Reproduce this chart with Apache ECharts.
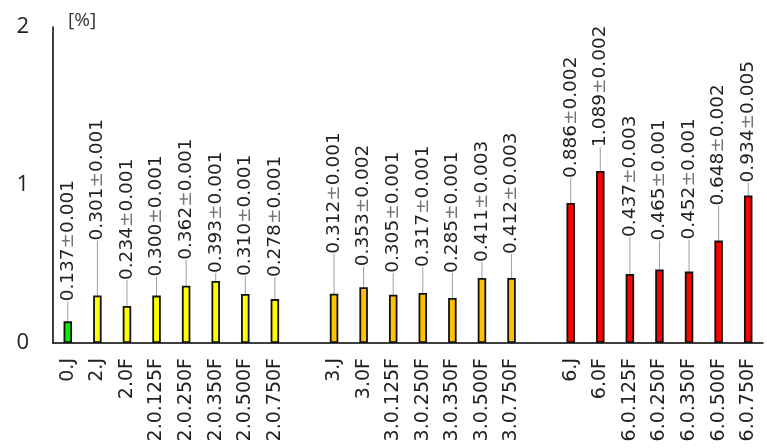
<!DOCTYPE html>
<html>
<head>
<meta charset="utf-8">
<script src="https://cdn.jsdelivr.net/npm/echarts@6/dist/echarts.min.js"></script>
<style>
  html, body { margin: 0; padding: 0; background: #fff; }
  #chart { width: 767px; height: 448px; }
</style>
</head>
<body>
<div id="chart"></div>
<script>
    // categories ('' = spacer between groups)
    var categories = [
        '0.J', '2.J', '2.0F', '2.0.125F', '2.0.250F', '2.0.350F', '2.0.500F', '2.0.750F', '',
        '3.J', '3.0F', '3.0.125F', '3.0.250F', '3.0.350F', '3.0.500F', '3.0.750F', '',
        '6.J', '6.0F', '6.0.125F', '6.0.250F', '6.0.350F', '6.0.500F', '6.0.750F'
    ];
    var values = [
        0.137, 0.301, 0.234, 0.300, 0.362, 0.393, 0.310, 0.278, null,
        0.312, 0.353, 0.305, 0.317, 0.285, 0.411, 0.412, null,
        0.886, 1.089, 0.437, 0.465, 0.452, 0.648, 0.934
    ];
    var errors = [
        0.001, 0.001, 0.001, 0.001, 0.001, 0.001, 0.001, 0.001, null,
        0.001, 0.002, 0.001, 0.001, 0.001, 0.003, 0.003, null,
        0.002, 0.002, 0.003, 0.001, 0.001, 0.002, 0.005
    ];
    var yTicks = [0, 1, 2];

    // styling per bar: fill colour and how far the label sits above the bar (px)
    var barColors = [
        '#00f000', '#ffff00', '#ffff00', '#ffff00', '#ffff00', '#ffff00', '#ffff00', '#ffff00', null,
        '#ffc000', '#ffc000', '#ffc000', '#ffc000', '#ffc000', '#ffc000', '#ffc000', null,
        '#ff0000', '#ff0000', '#ff0000', '#ff0000', '#ff0000', '#ff0000', '#ff0000'
    ];
    var labelGap = [
        20, 55, 26, 19, 26, 8, 18, 22, 0,
        40, 21, 22, 26, 25, 16, 24, 0,
        25, 24, 37, 29, 32, 35, 13
    ];

    var chart = echarts.init(document.getElementById('chart'), null, { renderer: 'canvas' });

    var barData = values.map(function (v, i) {
        if (v === null) { return '-'; }
        return {
            value: v,
            itemStyle: { color: barColors[i] },
            label: { distance: labelGap[i] }
        };
    });

    var option = {
        animation: false,
        backgroundColor: '#ffffff',
        grid: { left: 53, right: 4, top: 27, bottom: 105, containLabel: false },
        xAxis: {
            type: 'category',
            data: categories,
            axisLine: { lineStyle: { color: '#000', width: 1.5 } },
            axisTick: { show: false },
            axisLabel: {
                interval: 0,
                rotate: 90,
                margin: 15,
                color: '#222',
                fontFamily: '"DejaVu Sans", Verdana, sans-serif',
                fontSize: 19
            }
        },
        yAxis: {
            type: 'value',
            min: yTicks[0],
            max: yTicks[yTicks.length - 1],
            interval: 1,
            name: '[%]',
            nameGap: 6,
            nameTextStyle: {
                align: 'left',
                verticalAlign: 'middle',
                padding: [0, 0, 0, 15],
                color: '#333',
                fontFamily: 'Open Sans',
                fontSize: 19
            },
            axisLine: { show: true, lineStyle: { color: '#000', width: 1.5 } },
            axisTick: { show: false },
            splitLine: { show: false },
            axisLabel: {
                margin: 24,
                color: '#222',
                fontFamily: 'Open Sans',
                fontSize: 22
            }
        },
        series: [{
            type: 'bar',
            data: barData,
            barWidth: 8.5,
            itemStyle: { borderColor: '#111', borderWidth: 1.8 },
            label: {
                show: true,
                position: 'top',
                rotate: 90,
                align: 'left',
                verticalAlign: 'middle',
                formatter: function (p) {
                    return '{a|' + p.value.toFixed(3) + '}{b|±}{a|' + errors[p.dataIndex].toFixed(3) + '}';
                },
                rich: {
                    a: { color: '#222', fontFamily: '"DejaVu Sans", sans-serif', fontSize: 18.5 },
                    b: { color: '#777', fontFamily: '"DejaVu Sans", sans-serif', fontSize: 18.5 }
                }
            },
            labelLine: {
                show: true,
                lineStyle: { color: '#a0a0a0', width: 1 }
            }
        }]
    };

    chart.setOption(option);
</script>
</body>
</html>
